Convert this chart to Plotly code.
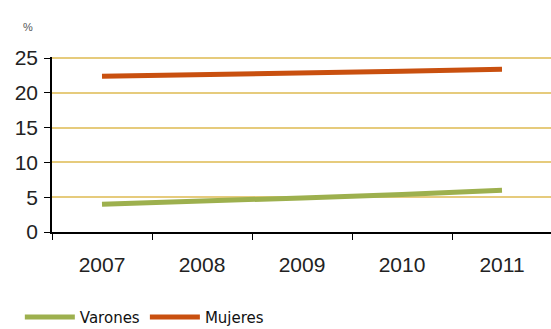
import plotly.graph_objects as go

years = ["2007", "2008", "2009", "2010", "2011"]
varones = [4.0, 4.4, 4.9, 5.4, 6.0]
mujeres = [22.4, 22.6, 22.9, 23.1, 23.4]
y_ticks = [0, 5, 10, 15, 20, 25]

fig = go.Figure()
fig.add_trace(go.Scatter(x=years, y=varones, name="Varones", mode="lines",
                         line=dict(color="#9DB04E", width=5)))
fig.add_trace(go.Scatter(x=years, y=mujeres, name="Mujeres", mode="lines",
                         line=dict(color="#C9500F", width=5)))

fig.update_layout(
    width=551, height=329,
    margin=dict(l=52, r=0, t=57, b=97, autoexpand=False),
    paper_bgcolor="white", plot_bgcolor="white",
    font=dict(family="Arial, Liberation Sans, sans-serif", color="#222"),
    showlegend=True,
    legend=dict(orientation="h", xref="container", yref="container",
                x=0.036, xanchor="left", y=0.036, yanchor="middle",
                font=dict(family="DejaVu Sans", size=15, color="#111"),
                itemwidth=50, tracegroupgap=0),
    xaxis=dict(type="category", range=[-0.5, 4.49], showgrid=False,
               showline=True, linecolor="black", linewidth=1.5,
               ticks="outside", tickson="boundaries", ticklen=6, tickcolor="black",
               tickfont=dict(size=21, color="#222"), ticklabelstandoff=13,
               automargin=False),
    yaxis=dict(range=[0, 25.15], tickvals=y_ticks, showgrid=True,
               gridcolor="#E6CB7C", gridwidth=2, zeroline=False,
               showline=True, linecolor="black", linewidth=1.5,
               ticks="outside", ticklen=6, tickcolor="black",
               tickfont=dict(size=21, color="#222"), ticklabelstandoff=2,
               automargin=False),
)
fig.add_annotation(text="%", xref="paper", yref="paper", x=-0.063, y=1.22,
                   showarrow=False, font=dict(size=11, color="#555"))

fig.write_html("out.html")
